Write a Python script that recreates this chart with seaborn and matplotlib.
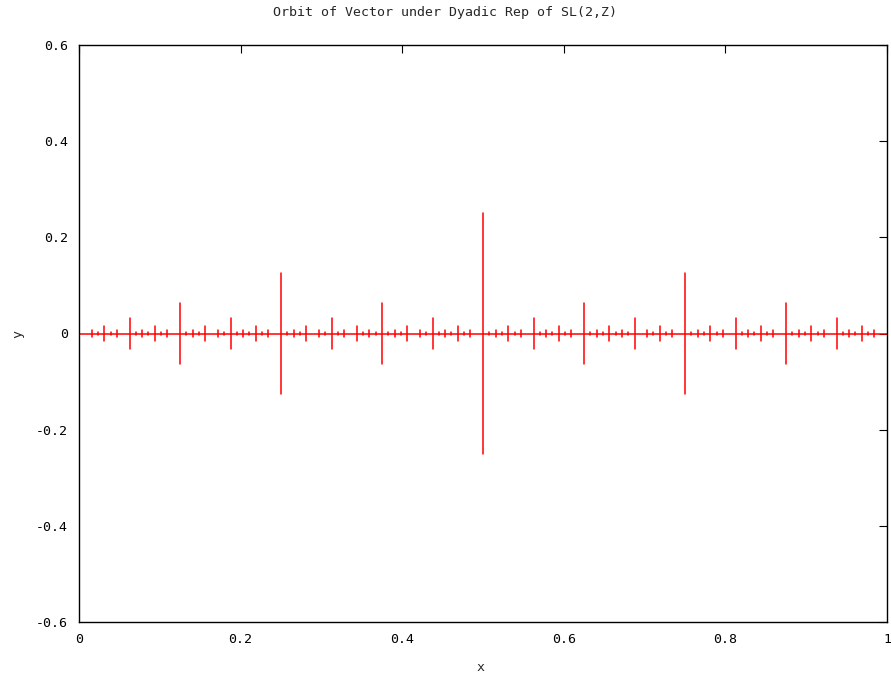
import numpy as np
import pandas as pd
import matplotlib
matplotlib.use("Agg")
import matplotlib.pyplot as plt
import seaborn as sns

# ─────────────────────────────────────────
# DATA: orbit points p/2^k, each drawn as a vertical bar of half-height h
# ─────────────────────────────────────────
denominators = [2, 4, 8, 16, 32, 64, 128]
half_heights = [0.25, 0.125, 0.0625, 0.03125, 0.015625, 0.0078125, 0.00390625]
numerators = [
    [1],
    [1, 3],
    [1, 3, 5, 7],
    [1, 3, 5, 7, 9, 11, 13, 15],
    [1, 3, 5, 7, 9, 11, 13, 15, 17, 19, 21, 23, 25, 27, 29, 31],
    [1, 3, 5, 7, 9, 11, 13, 15, 17, 19, 21, 23, 25, 27, 29, 31,
     33, 35, 37, 39, 41, 43, 45, 47, 49, 51, 53, 55, 57, 59, 61, 63],
    [3, 5, 9, 11, 13, 17, 19, 23, 25, 27, 29, 33, 35, 39, 41, 45, 47,
     49, 51, 55, 57, 59, 61, 65, 67, 69, 73, 75, 77, 81, 83, 85, 87,
     91, 93, 97, 99, 101, 105, 107, 109, 113, 115, 117, 121, 123, 125],
]
baseline_x = [0.0, 1.0]
baseline_y = [0.0, 0.0]

x_ticks = [0, 0.2, 0.4, 0.6, 0.8, 1]
x_labels = ["0", "0.2", "0.4", "0.6", "0.8", "1"]
y_ticks = [-0.6, -0.4, -0.2, 0, 0.2, 0.4, 0.6]
y_labels = ["-0.6", "-0.4", "-0.2", "0", "0.2", "0.4", "0.6"]

# build long table of segments
rows = []
seg = 0
for den, h, nums in zip(denominators, half_heights, numerators):
    for n in nums:
        xv = n / den
        rows.append({"seg": seg, "x": xv, "y": -h})
        rows.append({"seg": seg, "x": xv, "y": h})
        seg += 1
for bx, by in zip(baseline_x, baseline_y):
    rows.append({"seg": seg, "x": bx, "y": by})
df = pd.DataFrame(rows)

# ─────────────────────────────────────────
# PLOT
# ─────────────────────────────────────────
sns.set_style("white")
plt.rcParams["font.family"] = ["DejaVu Sans Mono"]

fig = plt.figure(figsize=(8.91, 6.75), dpi=100)
ax = fig.add_axes([79 / 891, 1 - 622 / 675, 808 / 891, 577 / 675])

sns.lineplot(data=df, x="x", y="y", units="seg", estimator=None, sort=False,
             color="#ff0000", linewidth=1.1, ax=ax, legend=False)

ax.set_xlim(0, 1)
ax.set_ylim(-0.6, 0.6)
ax.set_xticks(x_ticks)
ax.set_xticklabels(x_labels)
ax.set_yticks(y_ticks)
ax.set_yticklabels(y_labels)
ax.tick_params(direction="in", length=6, width=0.8, top=True, right=True,
               labelsize=9.5, colors="black", pad=8)
for sp in ax.spines.values():
    sp.set_visible(True)
    sp.set_color("black")
    sp.set_linewidth(1.0)

ax.set_xlabel("x", fontsize=9.5)
ax.xaxis.set_label_coords(0.4975, -0.068)
ax.set_ylabel("y", fontsize=9.5)
ax.yaxis.set_label_coords(-0.068, 0.5)
ax.text(0.4535, 1.057, "Orbit of Vector under Dyadic Rep of SL(2,Z)",
        transform=ax.transAxes, ha="center", va="center", fontsize=9.5)

fig.savefig("out.png", dpi=100)
